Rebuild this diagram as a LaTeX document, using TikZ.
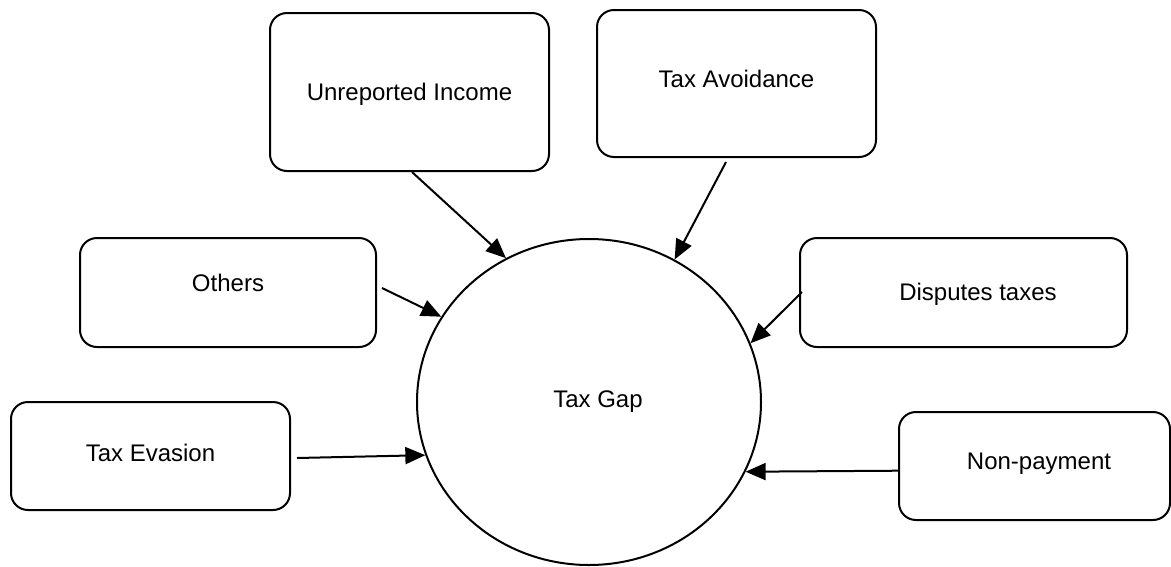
\documentclass[tikz,border=0pt]{standalone}
\usepackage{fontspec}
\setmainfont{Liberation Sans}
\usetikzlibrary{shapes.geometric,arrows.meta,calc}
\tikzset{
  boxnode/.style={draw, line width=2pt, rounded corners=17pt, inner sep=0pt},
  lbl/.style={font=\fontsize{24}{28}\selectfont},
  conn/.style={line width=2pt, -{Triangle[length=20pt,width=17pt]}},
}
\begin{document}
\begin{tikzpicture}[x=1pt,y=-1pt]
\fill[white] (0,0) rectangle (1171,566);
\useasboundingbox (0,0) rectangle (1171,566);

\node[draw, ellipse, line width=2pt, minimum width=344pt, minimum height=326pt, inner sep=0pt,
      label={[lbl,xshift=9pt]center:Tax Gap}] (tg) at (589,402) {};

\node[boxnode, minimum width=279pt, minimum height=158pt,
      label={[lbl,yshift=-2pt]center:Unreported Income}] (ui) at (409.5,92) {};
\node[boxnode, minimum width=279pt, minimum height=147pt,
      label={[lbl,yshift=4.5pt]center:Tax Avoidance}] (ta) at (736.5,83.5) {};
\node[boxnode, minimum width=296pt, minimum height=109pt,
      label={[lbl,yshift=9.5pt]center:Others}] (ot) at (228,292.5) {};
\node[boxnode, minimum width=327pt, minimum height=109pt,
      label={[lbl,xshift=14.5pt,yshift=-1.5pt]center:Disputes taxes}] (dt) at (963.5,292.5) {};
\node[boxnode, minimum width=279pt, minimum height=108pt,
      label={[lbl,yshift=3pt]center:Tax Evasion}] (te) at (150.5,456) {};
\node[boxnode, minimum width=271pt, minimum height=108pt,
      label={[lbl,xshift=4.5pt,yshift=2.7pt]center:Non-payment}] (np) at (1034.5,466) {};

\draw[conn] ($(ui.south)+(2.5,0)$) -- (tg.120.2);
\draw[conn] ($(ta.south)+(-10.5,4)$) -- (tg.59.9);
\draw[conn] ($(ot.east)+(5,-4.5)$) -- (tg.150.7);
\draw[conn] ($(dt.west)+(3,-0.5)$) -- (tg.20.4);
\draw[conn] ($(te.east)+(6,2)$) -- (tg.198.2);
\draw[conn] ($(np.west)+(0,4.7)$) -- (tg.336.2);
\end{tikzpicture}
\end{document}
